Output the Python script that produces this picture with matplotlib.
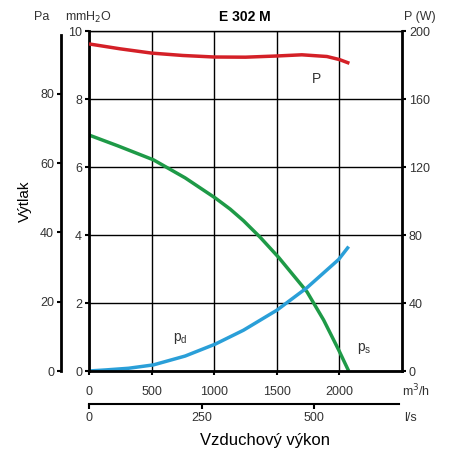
import matplotlib
matplotlib.use("Agg")
import matplotlib.pyplot as plt

plt.rcParams['font.family'] = ['Liberation Sans', 'DejaVu Sans']

# Data (m3/h, mmH2O / W)
p_flow = [0, 250, 500, 750, 1000, 1250, 1500, 1700, 1900, 2000, 2080]
p_power = [192.4, 189.5, 187.0, 185.6, 184.7, 184.6, 185.3, 186.0, 185.0, 183.2, 181.0]

ps_flow = [0, 232, 515, 768, 1008, 1128, 1234, 1368, 1515, 1741, 1874, 1994, 2074]
ps_val = [6.94, 6.62, 6.21, 5.68, 5.09, 4.76, 4.42, 3.93, 3.34, 2.33, 1.50, 0.62, 0.0]

pd_flow = [0, 128, 315, 515, 768, 1008, 1168, 1234, 1501, 1741, 1994, 2074]
pd_val = [0.0, 0.03, 0.08, 0.18, 0.44, 0.79, 1.08, 1.20, 1.79, 2.45, 3.28, 3.66]

x_ticks = [0, 500, 1000, 1500, 2000]
mm_ticks = [0, 2, 4, 6, 8, 10]
pa_ticks = [0, 20, 40, 60, 80]
w_ticks = [0, 40, 80, 120, 160, 200]
ls_ticks = [0, 250, 500]

fig = plt.figure(figsize=(4.52, 4.54), dpi=100)
L, B, W, H = 89/452, 83/454, 313/452, 340/454
ax = fig.add_axes([L, B, W, H])
ax.set_xlim(0, 2500)
ax.set_ylim(0, 10)
ax.set_xticks(x_ticks)
ax.set_yticks(mm_ticks)
ax.grid(True, color='black', linewidth=1.0)
tc = '#333333'
ax.tick_params(axis='both', direction='out', length=3, width=1.5, labelsize=9, colors='black', labelcolor=tc, pad=2)
ax.tick_params(axis='x', pad=8)
for s in ['left', 'bottom']:
    ax.spines[s].set_linewidth(2.0)
ax.spines['top'].set_linewidth(1.0)
ax.spines['right'].set_visible(False)

ax.plot(ps_flow, ps_val, color='#1e9a47', linewidth=2.5, solid_capstyle='butt', solid_joinstyle='round')
ax.plot(pd_flow, pd_val, color='#2a9fd8', linewidth=2.5, solid_capstyle='butt', solid_joinstyle='round')

# Right axis (W)
axr = ax.twinx()
axr.set_ylim(0, 200)
axr.set_yticks(w_ticks)
axr.spines['right'].set_linewidth(2.0)
for s in ['left', 'top', 'bottom']:
    axr.spines[s].set_visible(False)
axr.tick_params(axis='y', direction='out', length=3, width=1.5, labelsize=9, labelcolor=tc, pad=2)
axr.plot(p_flow, p_power, color='#d42027', linewidth=2.5, solid_capstyle='butt', solid_joinstyle='round')

# Pa axis
axp = ax.twinx()
axp.set_ylim(0, 98.1)
axp.spines['left'].set_position(('axes', -28/313))
axp.spines['left'].set_visible(True)
axp.spines['left'].set_linewidth(2.0)
axp.spines['left'].set_bounds(0, 97)
for s in ['right', 'top', 'bottom']:
    axp.spines[s].set_visible(False)
axp.yaxis.set_ticks_position('left')
axp.yaxis.set_label_position('left')
axp.set_yticks(pa_ticks)
axp.tick_params(axis='y', direction='out', length=3, width=1.5, labelsize=9, labelcolor=tc, pad=2)
axp.set_ylabel('Výtlak', fontsize=11, labelpad=6)

# l/s axis
axl = fig.add_axes([L, B, W, H])
axl.set_xlim(0, 2500/3.6)
axl.set_ylim(0, 1)
axl.patch.set_visible(False)
axl.yaxis.set_visible(False)
for s in ['left', 'right', 'top']:
    axl.spines[s].set_visible(False)
axl.spines['bottom'].set_position(('outward', 23.5))
axl.spines['bottom'].set_linewidth(1.5)
axl.spines['bottom'].set_bounds(0, 2480/3.6)
axl.set_xticks(ls_ticks)
axl.tick_params(axis='x', direction='out', length=3.5, width=1.5, labelsize=9, labelcolor=tc, pad=2.5)

# Texts
fig.text(245/452, 1-17/454, 'E 302 M', fontsize=10, fontweight='bold', ha='center', va='center')
fig.text(42/452, 1-17/454, 'Pa', fontsize=9, ha='center', va='center', color=tc)
fig.text(89/452, 1-17/454, 'mmH$_2$O', fontsize=9, ha='center', va='center', color=tc)
fig.text(420/452, 1-17/454, 'P (W)', fontsize=9, ha='center', va='center', color=tc)
fig.text(416/452, 1-391/454, 'm$^3$/h', fontsize=9, ha='center', va='center', color=tc)
fig.text(411/452, 1-418/454, 'l/s', fontsize=9, ha='center', va='center', color=tc)
fig.text(265/452, 1-440/454, 'Vzduchový výkon', fontsize=12, ha='center', va='center')

ax.text(1820, 8.6, 'P', fontsize=10, ha='center', va='center', color=tc)
ax.text(730, 0.95, 'p$_\\mathregular{d}$', fontsize=10, ha='center', va='center', color=tc)
ax.text(2200, 0.65, 'p$_\\mathregular{s}$', fontsize=10, ha='center', va='center', color=tc)

fig.savefig('out.png', dpi=100)
